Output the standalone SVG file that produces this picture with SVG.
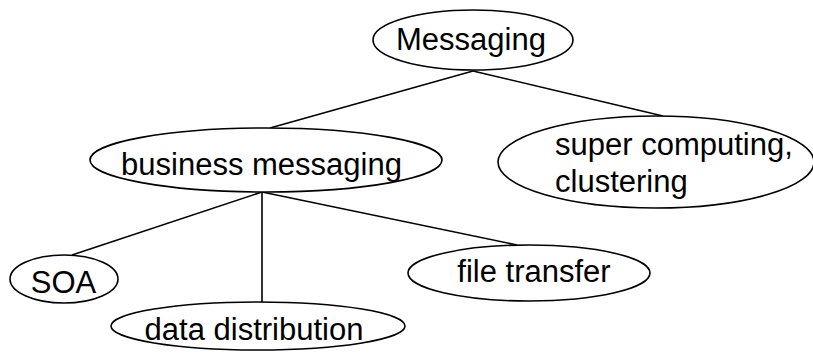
<svg xmlns="http://www.w3.org/2000/svg" width="813" height="354" viewBox="0 0 813 354">
<style>
.n ellipse{fill:#fff;stroke:#000;stroke-width:1.6}
.n text{font-family:"Liberation Sans",Arial,sans-serif;font-size:31px;fill:#000}
.c line{stroke:#000;stroke-width:1.6}
</style>
<rect width="813" height="354" fill="#fff"/>
<g id="connectors" class="c">
<line x1="473" y1="71" x2="270" y2="128"/>
<line x1="473" y1="71" x2="663" y2="116"/>
<line x1="262" y1="192" x2="72" y2="255"/>
<line x1="262" y1="192" x2="262" y2="302"/>
<line x1="262" y1="192" x2="517" y2="245"/>
</g>
<g id="messaging" class="n">
<ellipse cx="473" cy="40" rx="100" ry="30"/>
<text x="471" y="50" text-anchor="middle">Messaging</text>
</g>
<g id="business-messaging" class="n">
<ellipse cx="266" cy="160" rx="176" ry="32"/>
<text x="261.5" y="175" text-anchor="middle">business messaging</text>
</g>
<g id="super-computing" class="n">
<ellipse cx="656" cy="162" rx="158" ry="46"/>
<text x="555" y="155">super computing,</text>
<text x="555" y="192">clustering</text>
</g>
<g id="soa" class="n">
<ellipse cx="64" cy="279" rx="54" ry="24"/>
<text x="63.5" y="293" text-anchor="middle">SOA</text>
</g>
<g id="data-distribution" class="n">
<ellipse cx="258" cy="326" rx="147" ry="24"/>
<text x="254" y="340" text-anchor="middle">data distribution</text>
</g>
<g id="file-transfer" class="n">
<ellipse cx="529" cy="273" rx="121" ry="28"/>
<text x="534" y="282" text-anchor="middle">file transfer</text>
</g>
</svg>
